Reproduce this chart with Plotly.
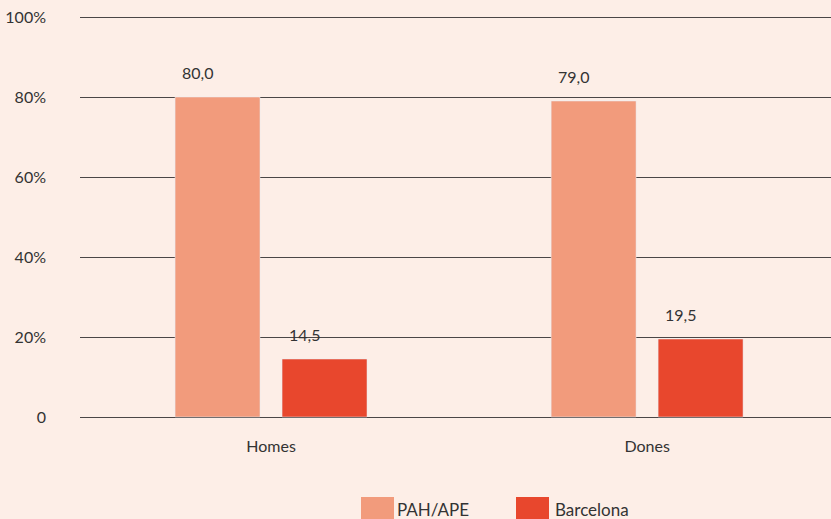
import plotly.graph_objects as go

categories = ["Homes", "Dones"]
series_names = ["PAH/APE", "Barcelona"]
pah_values = [80.0, 79.0]
bcn_values = [14.5, 19.5]
value_labels_pah = ["80,0", "79,0"]
value_labels_bcn = ["14,5", "19,5"]
y_ticks = [0, 20, 40, 60, 80, 100]
y_tick_labels = ["0", "20%", "40%", "60%", "80%", "100%"]

colors = ["#F29B7C", "#E8472D"]
bg = "#FDEEE7"
font = "Lato, 'Open Sans', sans-serif"

fig = go.Figure()
fig.add_trace(go.Bar(x=categories, y=pah_values, name=series_names[0], marker_color=colors[0], showlegend=False))
fig.add_trace(go.Bar(x=categories, y=bcn_values, name=series_names[1], marker_color=colors[1], showlegend=False))

# value labels above bars
offsets = [-0.142, 0.142]
for i, cat in enumerate(categories):
    for vals, labs, off in [(pah_values, value_labels_pah, offsets[0]), (bcn_values, value_labels_bcn, offsets[1])]:
        fig.add_annotation(x=i + off, y=vals[i], xref="x", yref="y", text=labs[i], showarrow=False,
                           xshift=-20, yshift=25, font=dict(size=16, color="#333333", family=font))

W, H = 831, 519
PT, PB = 13, 421  # plot area (range -1..101)
# custom legend (paper coords)
leg = [(361, 394, 399, 0), (516, 549, 557, 1)]
for x0, x1, tx, k in leg:
    fig.add_shape(type="rect", xref="paper", yref="paper",
                  x0=(x0 - 80) / (W - 80), x1=(x1 - 80) / (W - 80),
                  y0=-(497 - PB) / (PB - PT), y1=-(530 - PB) / (PB - PT),
                  fillcolor=colors[k], line_width=0)
    fig.add_annotation(xref="paper", yref="paper", x=(tx - 84) / (W - 80), y=-(509 - PB) / (PB - PT),
                       xanchor="left", yanchor="middle", text=series_names[k], showarrow=False,
                       font=dict(size=17, color="#333333", family=font))

fig.update_layout(
    width=W, height=H,
    paper_bgcolor=bg, plot_bgcolor=bg,
    margin=dict(l=80, r=0, t=PT, b=H - PB),
    barmode="group", bargap=0.431, bargroupgap=0.206,
    font=dict(family=font, size=16, color="#333333"),
    xaxis=dict(range=[-0.508, 1.489], showgrid=False, showline=False, ticks="",
               tickfont=dict(size=16, color="#333333"), ticklabelstandoff=14),
    yaxis=dict(range=[-1, 101], tickvals=y_ticks, ticktext=y_tick_labels, showgrid=True,
               gridcolor="#4a4646", gridwidth=1, zeroline=False,
               showline=False, ticks="", ticklabelstandoff=33,
               tickfont=dict(size=16, color="#333333")),
)
fig.write_html("out.html", post_script="document.body.style.margin='0';",
               config={"displayModeBar": False})
